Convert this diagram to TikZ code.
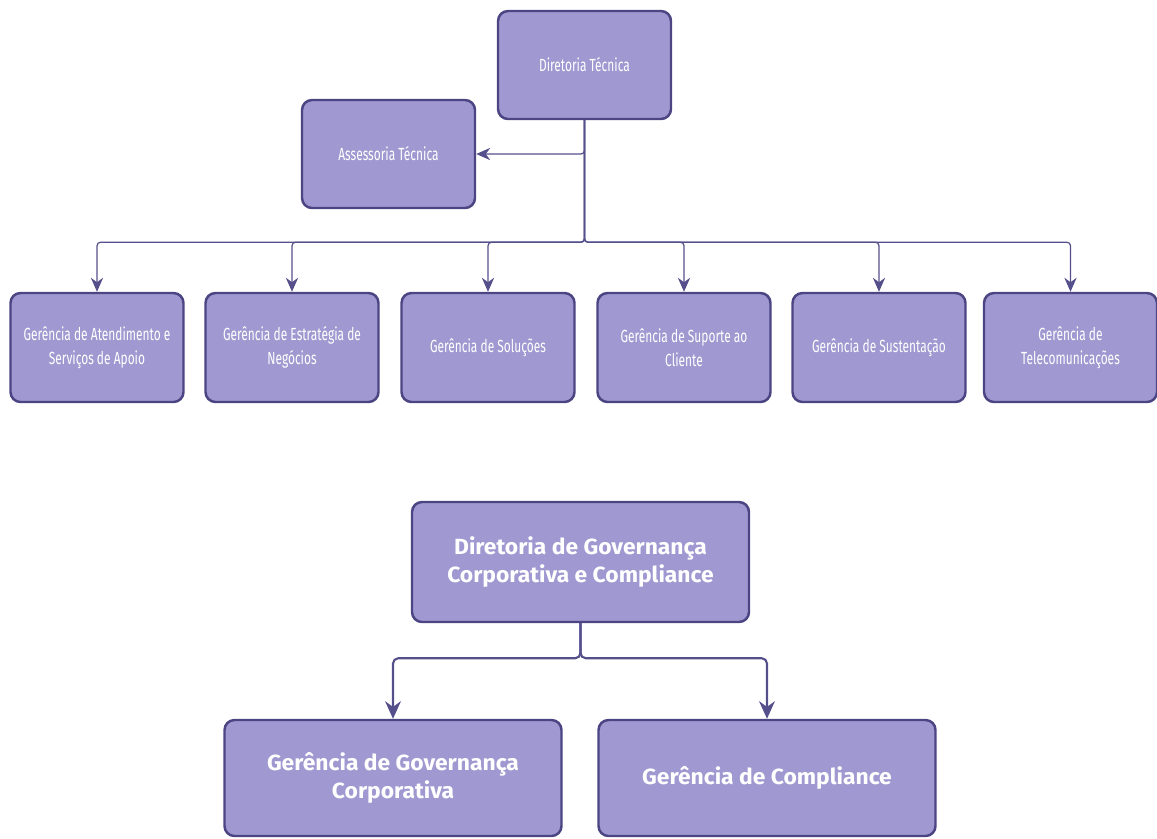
\documentclass[tikz,border=0pt]{standalone}
\usepackage{fontspec}
\setmainfont{Fira Sans}
\newfontfamily\narrowfont[FakeStretch=0.68]{Fira Sans}
\newfontfamily\widefont[FakeStretch=1.04]{Fira Sans}
\usepackage{xcolor}
\usepackage{tikz}
\usetikzlibrary{shapes, arrows.meta, positioning}
\definecolor{boxfill}{HTML}{A098D0}
\definecolor{boxline}{HTML}{4B4583}
\definecolor{linkline}{HTML}{554F8C}

\begin{document}
\begin{tikzpicture}
            \tikzstyle{unit}=[draw=boxline, line width=1.4pt, fill=boxfill, rounded corners=0.2cm, text=white, align=center, inner sep=0pt]
            \tikzstyle{small}=[unit, minimum width=3.46cm, minimum height=2.16cm, font=\narrowfont\fontsize{10}{13.5}\selectfont]
            \tikzstyle{big}=[unit, minimum width=6.74cm, minimum height=2.32cm, font=\widefont\bfseries\fontsize{12.5}{16}\selectfont]
            \tikzstyle{link}=[draw=linkline, line width=0.7pt, rounded corners=2pt, -{Stealth[length=8pt,width=7pt]}]
            \tikzstyle{thicklink}=[draw=linkline, line width=1.2pt, rounded corners=3pt, -{Stealth[length=10pt,width=9pt]}]
            \useasboundingbox (0,0) rectangle (23.14,-16.76);
            % diretoria tecnica
            \node[small] (dt) at (11.69,-1.30) {Diretoria Técnica};
            \node[small] (at) at (7.77,-3.08) {Assessoria Técnica};
            \foreach \n/\x/\txt in {g1/1.94/{Gerência de Atendimento e\\Serviços de Apoio},
                                    g2/5.84/{Gerência de Estratégia de\\Negócios},
                                    g3/9.76/{Gerência de Soluções},
                                    g4/13.68/{Gerência de Suporte ao\\Cliente},
                                    g5/17.58/{Gerência de Sustentação},
                                    g6/21.41/{Gerência de\\Telecomunicações}}
                \node[small, minimum height=2.18cm] (\n) at (\x,-6.95) {\txt};
            \draw[link] (dt.south) |- (at.east);
            \foreach \n in {g1,g2,g3,g4,g5,g6}
                \draw[link] (dt.south) -- ++(0,-2.44) -| (\n.north);
            % governanca e compliance
            \node[big, minimum height=2.40cm] (dg) at (11.61,-11.24) {Diretoria de Governança\\Corporativa e Compliance};
            \node[big] (gc) at (7.86,-15.56) {Gerência de Governança\\Corporativa};
            \node[big] (gm) at (15.34,-15.56) {Gerência de Compliance};
            \draw[thicklink] (dg.south) -- ++(0,-0.70) -| (gc.north);
            \draw[thicklink] (dg.south) -- ++(0,-0.70) -| (gm.north);
\end{tikzpicture}
\end{document}
